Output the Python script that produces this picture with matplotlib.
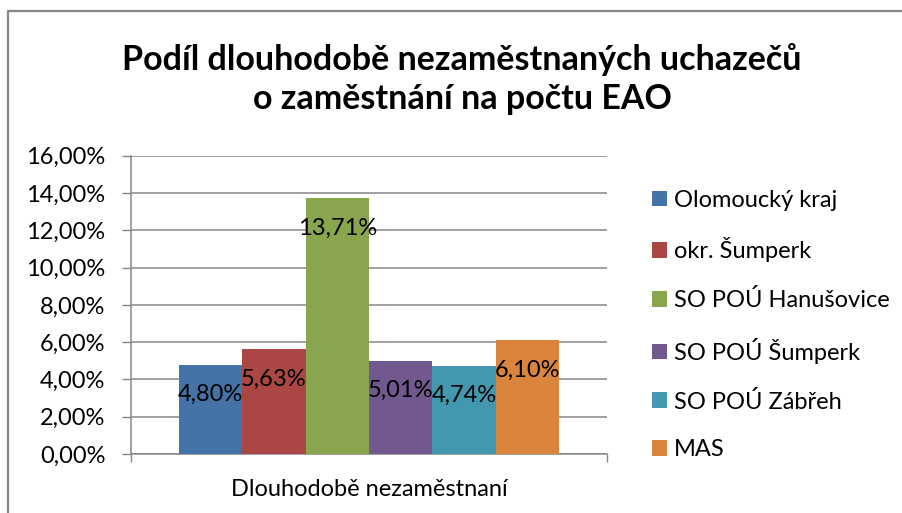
import matplotlib.pyplot as plt
from matplotlib.lines import Line2D
import numpy as np

plt.rcParams['font.family'] = ['Lato', 'DejaVu Sans']

# Data
series = ['Olomoucký kraj', 'okr. Šumperk', 'SO POÚ Hanušovice',
          'SO POÚ Šumperk', 'SO POÚ Zábřeh', 'MAS']
values = [4.80, 5.63, 13.71, 5.01, 4.74, 6.10]
category = 'Dlouhodobě nezaměstnaní'
colors = ['#4573A7', '#AA4643', '#89A54E', '#71588F', '#4198AF', '#DB843D']
yticks = [0, 2, 4, 6, 8, 10, 12, 14, 16]

fs = 17

fig = plt.figure(figsize=(9.02, 5.13), dpi=100)
ax = fig.add_axes([131 / 902, 59 / 513, 476 / 902, 298.3 / 513])

# chart frame (only left and top edges are visible)
fx, fy = 8 / 902, 1 - 11 / 513
fig.add_artist(Line2D([fx, fx, 1.0], [0.0, fy, fy], color='#868686',
                      linewidth=1.6, transform=fig.transFigure))

w = 0.8 / len(values)
for i, (name, v, c) in enumerate(zip(series, values, colors)):
    x = (i - (len(values) - 1) / 2) * w
    ax.bar(x, v, width=w, color=c, label=name, zorder=3)
    ax.annotate('{:.2f}%'.format(v).replace('.', ','), (x, v),
                xytext=(0, -21.5), textcoords='offset points',
                ha='center', va='center', fontsize=fs, color='black',
                zorder=4)

ax.set_xlim(-0.5, 0.5)
ax.set_ylim(0, 16)
ax.set_yticks(yticks)
ax.set_yticklabels(['{:.2f}%'.format(t).replace('.', ',') for t in yticks],
                   fontsize=fs)
ax.tick_params(axis='y', length=6.5, width=1, color='#868686', pad=12)
ax.set_xticks([-0.5, 0.5])
ax.set_xticklabels([])
ax.tick_params(axis='x', length=6, width=1, color='#868686')
ax.grid(axis='y', color='#868686', linewidth=1.1, zorder=0)

for s in ['top', 'right']:
    ax.spines[s].set_visible(False)
for s in ['left', 'bottom']:
    ax.spines[s].set_color('#868686')
    ax.spines[s].set_linewidth(1.1)

fig.text(369 / 902, 1 - 490 / 513, category, ha='center', va='center',
         fontsize=fs)

fig.text(462 / 902, 1 - 79 / 513,
         'Podíl dlouhodobě nezaměstnaných uchazečů\no zaměstnání na počtu EAO',
         ha='center', va='center', fontsize=24.5, fontweight='bold',
         linespacing=1.3)

leg = fig.legend(loc='center left', bbox_to_anchor=(640 / 902, 1 - 325 / 513),
                 frameon=False, fontsize=fs, handlelength=0.65,
                 handleheight=0.65, handletextpad=0.3, labelspacing=1.13,
                 borderpad=0)

fig.savefig('out.png', dpi=100)
